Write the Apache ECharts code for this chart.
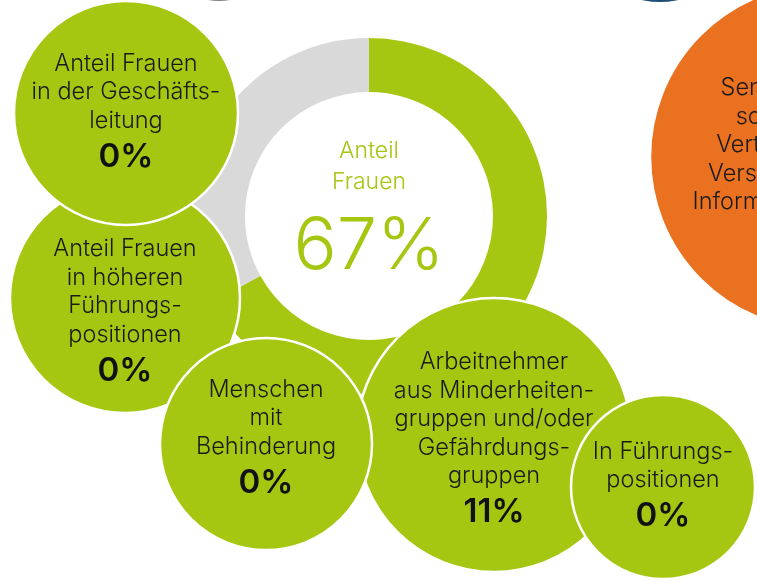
<!DOCTYPE html>
<html>
<head>
<meta charset="utf-8">
<script src="https://cdn.jsdelivr.net/npm/echarts@6/dist/echarts.min.js"></script>
<style>
html,body{margin:0;padding:0;background:#fff;}
#chart{width:757px;height:581px;}
</style>
</head>
<body>
<div id="chart"></div>
<script>
// ---- data ----
const donutTitle = ['Anteil', 'Frauen'];
const donutShare = 67;           // percent
const donutRest = 100 - donutShare;

const bubbleTitles = [
  ['Anteil Frauen', 'in höheren', 'Führungs-', 'positionen'],
  ['Anteil Frauen', 'in der Geschäfts-', 'leitung'],
  ['Arbeitnehmer', 'aus Minderheiten-', 'gruppen und/oder', 'Gefährdungs-', 'gruppen'],
  ['Menschen', 'mit', 'Behinderung'],
  ['In Führungs-', 'positionen']
];
const bubbleValues = [0, 0, 11, 0, 0]; // percent

const sideTitle = ['Sensibilisierungs-', 'schulungen für', 'Vertraulichkeit und', 'Verständlichkeit von', 'Informationen im Team'];

// ---- layout (pixels) ----
const bubbleCenters = [[125, 298], [126, 113], [494, 435], [266, 444], [663, 487]];
const bubbleRadii = [115, 112, 137, 106, 92];
const bubbleLabelShift = [16, 1, 6, -4, 1];
const sideCenter = [823, 157], sideRadius = 173;
const sliverCenters = [[219, -60], [660, -80]], sliverRadii = [61, 82];

const GREEN = '#A5C712', GREY = '#D9D9D9', ORANGE = '#E9711F';
const FONT = 'Inter, "Noto Sans", sans-serif';

const chart = echarts.init(document.getElementById('chart'), null, {renderer: 'canvas'});

const bubbleData = bubbleTitles.map((lines, i) => ({
  value: bubbleCenters[i],
  symbolSize: bubbleRadii[i] * 2,
  label: {
    show: true,
    position: 'inside',
    offset: [0, bubbleLabelShift[i]],
    formatter: lines.map(l => '{n|' + l + '}').join('\n') + '\n{b|' + bubbleValues[i] + '%}'
  }
}));

const sideData = [{
  value: sideCenter,
  symbolSize: sideRadius * 2,
  itemStyle: {color: ORANGE},
  label: {
    show: true, position: 'inside', offset: [-5, -12],
    formatter: sideTitle.map(l => '{n|' + l + '}').join('\n')
  }
}];

const sliverData = sliverCenters.map((c, i) => ({
  value: c, symbolSize: sliverRadii[i] * 2,
  itemStyle: {color: i === 0 ? '#808080' : '#1F4E79', borderWidth: 0},
  label: {show: false}
}));

const richText = {
  n: {fontSize: 23.5, lineHeight: 28.5, color: '#1a1a1a', fontFamily: FONT, fontWeight: 300},
  b: {fontSize: 33, lineHeight: 44, color: '#111', fontFamily: FONT, fontWeight: 600}
};

chart.setOption({
  animation: false,
  grid: {left: 0, right: 0, top: 0, bottom: 0},
  xAxis: {type: 'value', min: 0, max: 757, show: false},
  yAxis: {type: 'value', min: 0, max: 581, inverse: true, show: false},
  series: [
    {
      type: 'pie', z: 1, silent: true,
      center: [369, 216], radius: [124, 178],
      startAngle: 90, clockwise: true,
      label: {show: false}, labelLine: {show: false},
      itemStyle: {borderWidth: 0},
      data: [
        {
          value: donutShare, itemStyle: {color: GREEN},
          label: {
            show: true, position: 'center',
            formatter: donutTitle.map(l => '{a|' + l + '}').join('\n') + '\n{p|' + donutShare + '%}',
            rich: {
              a: {fontSize: 23, lineHeight: 31, color: GREEN, fontFamily: FONT, fontWeight: 300},
              p: {fontSize: 72, lineHeight: 98, color: GREEN, fontFamily: FONT, fontWeight: 300}
            }
          }
        },
        {value: donutRest, itemStyle: {color: GREY}}
      ]
    },
    {
      type: 'scatter', z: 2, silent: true, clip: false,
      symbol: 'circle',
      itemStyle: {color: GREEN, borderColor: '#fff', borderWidth: 2.5, opacity: 1},
      label: {rich: richText},
      data: sliverData.concat(sideData, bubbleData)
    }
  ]
});
</script>
</body>
</html>
